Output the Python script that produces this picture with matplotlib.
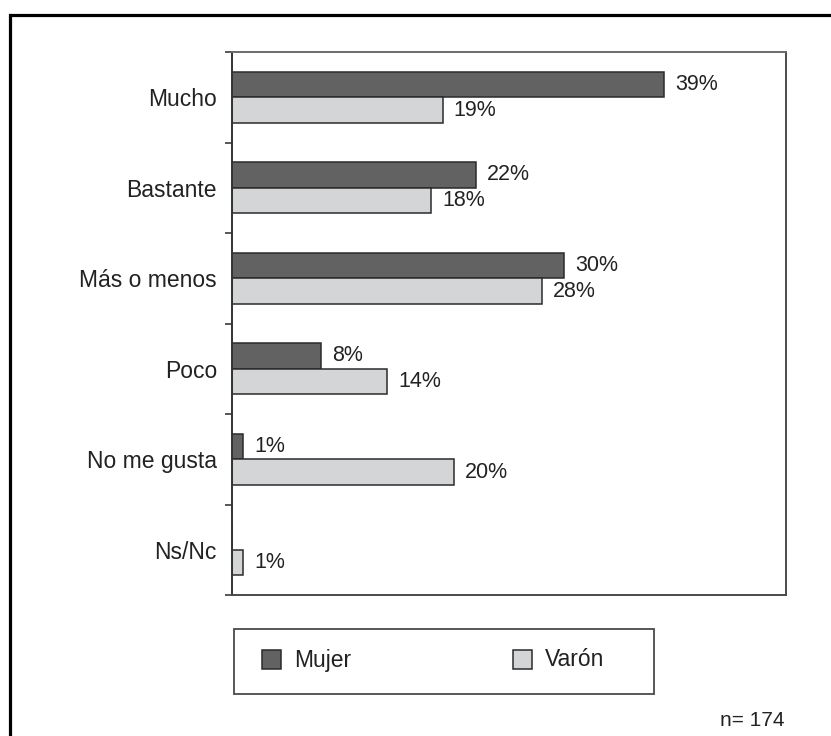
import matplotlib.pyplot as plt
import numpy as np
from matplotlib.lines import Line2D
from matplotlib.patches import Rectangle

plt.rcParams['font.family'] = ['Liberation Sans', 'DejaVu Sans']

# Survey answers (% of respondents)
categories = ["Mucho", "Bastante", "Más o menos", "Poco", "No me gusta", "Ns/Nc"]
series_names = ["Mujer", "Varón"]
mujer = [39, 22, 30, 8, 1, 0]
varon = [19, 18, 28, 14, 20, 1]
sample_note = "n= 174"

colors = ['#626262', '#d4d5d7']
edge = '#2b2b2b'
axis_col = '#4a4a4a'
txt = '#222222'

fig = plt.figure(figsize=(8.31, 7.36), dpi=100)
ax = fig.add_axes([232 / 831, 141 / 736, 554 / 831, 543 / 736])

y = np.arange(len(categories))
h = 0.282

ax.barh(y - h / 2, mujer, height=h, color=colors[0], edgecolor=edge, linewidth=1.1)
ax.barh(y + h / 2, varon, height=h, color=colors[1], edgecolor=edge, linewidth=1.1)

# value labels at the end of each bar (no label for empty bars)
for i in range(len(categories)):
    if mujer[i] > 0:
        ax.text(mujer[i] + 1.0, y[i] - h / 2, f'{mujer[i]}%', va='center', ha='left',
                fontsize=15.5, color=txt)
    if varon[i] > 0:
        ax.text(varon[i] + 1.0, y[i] + h / 2, f'{varon[i]}%', va='center', ha='left',
                fontsize=15.5, color=txt)

ax.set_xlim(0, 50)
ax.set_ylim(len(categories) - 0.5, -0.5)
ax.set_xticks([])
ax.set_yticks(y)
ax.set_yticklabels(categories, fontsize=16.5, color=txt)
ax.tick_params(axis='y', which='major', length=0, pad=10.8)
ax.set_yticks(np.arange(-0.5, len(categories), 1), minor=True)
ax.tick_params(axis='y', which='minor', length=5, width=1.3, color=axis_col, direction='out')

for side, sp in ax.spines.items():
    sp.set_color(axis_col)
    sp.set_linewidth(1.4)
ax.spines['top'].set_color('#6a6a6a')
ax.spines['left'].set_color('#333333')

# legend box drawn in figure coordinates
W, H = 831, 736
fig.add_artist(Rectangle((234 / W, (H - 694) / H), 420 / W, 65 / H, transform=fig.transFigure,
                         facecolor='white', edgecolor=axis_col, linewidth=1.3))
for name, col, px in zip(series_names, colors, [262, 513]):
    fig.add_artist(Rectangle((px / W, (H - 669) / H), 19 / W, 19 / H, transform=fig.transFigure,
                             facecolor=col, edgecolor=edge, linewidth=1.1))
    fig.text((px + 32) / W, (H - 660) / H, name, fontsize=16.5, va='center', ha='left', color=txt)

fig.text(785 / W, (H - 720) / H, sample_note, fontsize=15, ha='right', va='center', color=txt)

# outer frame (top and left edges)
fig.add_artist(Line2D([9.5 / W, 1.0], [(H - 14.5) / H, (H - 14.5) / H], transform=fig.transFigure,
                      color='black', linewidth=2.3, solid_capstyle='butt'))
fig.add_artist(Line2D([9.5 / W, 9.5 / W], [0, (H - 14.5) / H], transform=fig.transFigure,
                      color='black', linewidth=2.3, solid_capstyle='projecting'))

fig.savefig('out.png', dpi=100)
